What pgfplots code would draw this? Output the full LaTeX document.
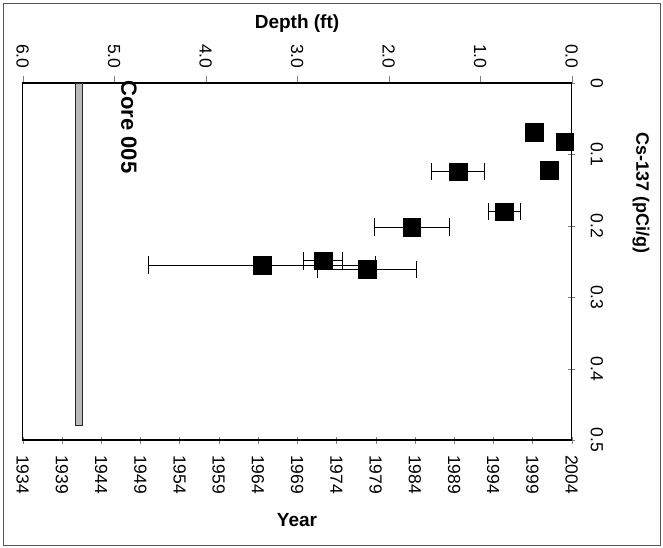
\documentclass[border=0pt]{standalone}
\usepackage{pgfplots}
\pgfplotsset{compat=1.18}
\usepackage{fontspec}
\setmainfont{Liberation Sans}
\begin{document}
\begin{tikzpicture}[x=1pt,y=1pt]
\path[use as bounding box] (0,0) rectangle (663,548);
\draw[black!65, line width=0.8pt] (3,3) rectangle (660,545);
% main axis: Year (bottom) vs Cs-137 (right)
\begin{axis}[
  at={(22.7pt,108pt)}, anchor=south west,
  scale only axis, width=549pt, height=357pt,
  xmin=1934, xmax=2004, ymin=0, ymax=0.5, y dir=reverse,
  axis line style={line width=1pt},
  xtick={1934,1939,...,2004}, xtick pos=left, tick align=center,
  ytick={0,0.1,...,0.5}, ytick pos=right, yticklabel pos=right,
  major tick length=7pt,
  /pgf/number format/assume math mode=true,
  /pgf/number format/set thousands separator={},
  tick label style={font=\fontsize{17.5}{19}\selectfont},
  xticklabel style={rotate=-90, anchor=west},
  yticklabel style={rotate=-90, anchor=south, /pgf/number format/fixed, /pgf/number format/precision=1},
  xticklabel shift=8pt, yticklabel shift=12pt,
  clip=false,
]
\addplot[fill=gray!55, draw=black!85, line width=0.7pt] coordinates
  {(1940.75,0) (1941.65,0) (1941.65,0.48) (1940.75,0.48)} -- cycle;
\addplot[only marks, mark=square*, mark size=8.8pt, black,
  error bars/.cd, x dir=both, x explicit, error bar style={line width=1pt, black}]
  coordinates {
  (2003.1,0.082) +- (0,0)
  (1999.2,0.069) +- (0,0)
  (2001.1,0.122) +- (0,0)
  (1989.5,0.124) +- (3.4,0)
  (1995.4,0.180) +- (2.0,0)
  (1983.6,0.202) +- (4.8,0)
  (1964.5,0.255) +- (14.5,0)
  (1972.3,0.249) +- (2.5,0)
  (1977.9,0.261) +- (6.3,0)
  };
\end{axis}
% secondary axis: Depth (top)
\begin{axis}[
  at={(22.7pt,108pt)}, anchor=south west,
  scale only axis, width=549pt, height=357pt,
  xmin=0, xmax=6, x dir=reverse, ymin=0, ymax=1,
  axis line style={line width=1pt},
  xtick={0,1,...,6}, xtick pos=right, xticklabel pos=right, ytick=\empty,
  tick align=outside, major tick length=7pt,
  /pgf/number format/assume math mode=true,
  tick label style={font=\fontsize{17.5}{19}\selectfont},
  xticklabel style={rotate=-90, anchor=east, /pgf/number format/fixed, /pgf/number format/fixed zerofill, /pgf/number format/precision=1},
  xticklabel shift=4pt,
]
\end{axis}
\node[font=\bfseries\fontsize{19}{21}\selectfont] at (297,524) {Depth (ft)};
\node[font=\bfseries\fontsize{19}{21}\selectfont] at (297,28) {Year};
\node[font=\bfseries\fontsize{18}{20}\selectfont, rotate=-90] at (641,355) {Cs-137 (pCi/g)};
\node[font=\bfseries\fontsize{22}{24}\selectfont, rotate=-90] at (129,421) {Core 005};
\end{tikzpicture}
\end{document}
